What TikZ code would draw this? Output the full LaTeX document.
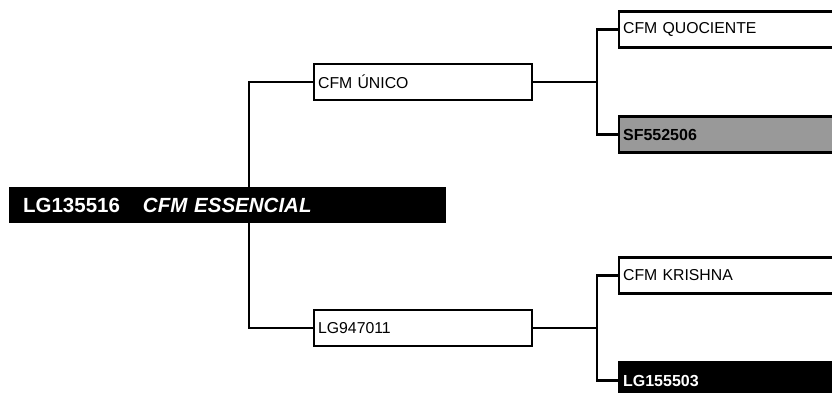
\documentclass[tikz,border=0pt]{standalone}
\usepackage{fontspec}
\setmainfont{Liberation Sans}
\definecolor{boxgray}{RGB}{153,153,153}
\tikzset{every picture/.style={line width=2.2pt}}
\tikzset{
  famnode/.style={draw, rectangle, anchor=west, minimum height=36, inner xsep=3.5pt, align=left, font=\fontsize{15.8}{18}\selectfont},
  midnode/.style={famnode, minimum width=218, text width=210},
  endnode/.style={famnode, minimum width=260, text width=252},
  greynode/.style={fill=boxgray, font=\fontsize{16}{18}\selectfont\bfseries},
  darknode/.style={fill=black, text=white, font=\fontsize{16}{18}\selectfont\bfseries},
  rootnode/.style={fill=black, text=white, anchor=west, minimum width=437, minimum height=36, inner xsep=14pt, text width=409, align=left, font=\fontsize{20.5}{24}\selectfont\bfseries},
}

\begin{document}
\begin{tikzpicture}[x=1pt,y=1pt,yscale=-1]
\useasboundingbox (0,0) rectangle (832,392);
\clip (0,0) rectangle (832,392);

% Root Node
\node [rootnode] (root) at (8,205) {LG135516\hspace{23pt}\textit{CFM ESSENCIAL}};

% Second Generation
\node [midnode] (unico) at (313,82) {CFM ÚNICO};
\node [midnode] (lg947) at (313,328) {LG947011};

% Third Generation
\node [endnode] (quoc) at (618,29.5) {CFM QUOCIENTE};
\node [endnode, greynode] (sf552) at (618,134.5) {SF552506};
\node [endnode] (krish) at (618,275.5) {CFM KRISHNA};
\node [endnode, darknode] (lg155) at (618,380.5) {LG155503};

% Forks
\coordinate (forkroot) at (249,205);
\coordinate (forkunico) at (597,82);
\coordinate (forklg) at (597,328);

%Straight Lines
\draw (unico.west) -| (forkroot) |- (lg947.west);
\draw (unico.east) -- (forkunico);
\draw (quoc.west) -| (forkunico) |- (sf552.west);
\draw (lg947.east) -- (forklg);
\draw (krish.west) -| (forklg) |- (lg155.west);

% Root box again, over the fork line
\node [rootnode] at (8,205) {LG135516\hspace{23pt}\textit{CFM ESSENCIAL}};

\end{tikzpicture}
\end{document}
